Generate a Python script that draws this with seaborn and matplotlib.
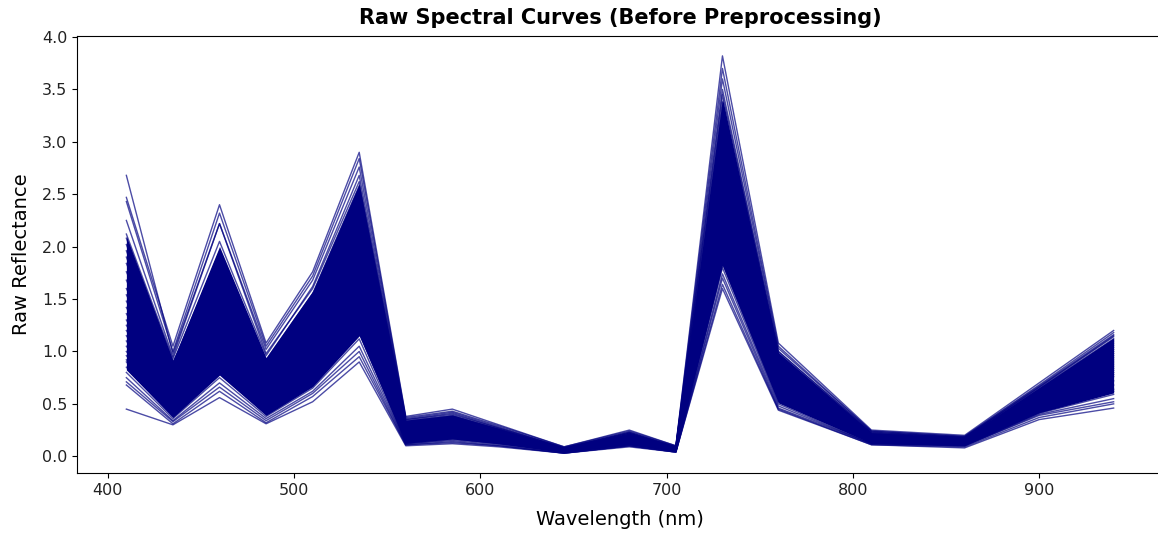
import matplotlib
matplotlib.use("Agg")
import matplotlib.pyplot as plt
import seaborn as sns
import pandas as pd

wavelengths = [410, 435, 460, 485, 510, 535, 560, 585, 610, 645, 680, 705, 730, 760, 810, 860, 900, 940]

upper_curves = [
    [2.68, 0.98, 2.22, 0.98, 1.60, 2.62, 0.35, 0.41, 0.27, 0.08, 0.22, 0.09, 3.45, 1.00, 0.23, 0.18, 0.66, 1.15],
    [2.47, 1.05, 2.40, 1.08, 1.76, 2.90, 0.38, 0.45, 0.30, 0.09, 0.25, 0.10, 3.82, 1.08, 0.25, 0.20, 0.70, 1.20],
    [2.43, 1.00, 2.32, 1.05, 1.72, 2.84, 0.37, 0.43, 0.29, 0.09, 0.24, 0.10, 3.70, 1.05, 0.24, 0.19, 0.68, 1.18],
    [2.25, 0.95, 2.22, 1.02, 1.68, 2.76, 0.36, 0.42, 0.28, 0.08, 0.23, 0.09, 3.60, 1.03, 0.24, 0.19, 0.67, 1.16],
    [2.12, 0.93, 2.05, 0.96, 1.62, 2.68, 0.35, 0.40, 0.27, 0.08, 0.23, 0.09, 3.50, 1.00, 0.23, 0.18, 0.66, 1.14],
    [2.08, 0.90, 1.80, 0.92, 1.55, 2.58, 0.34, 0.39, 0.26, 0.08, 0.22, 0.09, 3.38, 0.98, 0.22, 0.18, 0.65, 1.12],
    [2.02, 0.88, 1.95, 0.90, 1.50, 2.50, 0.33, 0.38, 0.26, 0.07, 0.22, 0.08, 3.30, 0.96, 0.22, 0.18, 0.64, 1.10],
    [1.96, 0.85, 1.72, 0.88, 1.46, 2.42, 0.32, 0.37, 0.25, 0.07, 0.21, 0.08, 3.22, 0.94, 0.21, 0.17, 0.63, 1.08],
    [1.90, 0.82, 1.65, 0.85, 1.42, 2.35, 0.31, 0.36, 0.24, 0.07, 0.21, 0.08, 3.15, 0.92, 0.21, 0.17, 0.62, 1.06],
    [1.84, 0.80, 1.58, 0.82, 1.38, 2.28, 0.30, 0.35, 0.24, 0.07, 0.20, 0.08, 3.08, 0.90, 0.20, 0.17, 0.61, 1.04],
]

middle_curves = [
    [1.76, 0.77, 1.52, 0.80, 1.33, 2.20, 0.29, 0.34, 0.23, 0.07, 0.20, 0.07, 3.00, 0.88, 0.20, 0.16, 0.60, 1.02],
    [1.68, 0.74, 1.46, 0.77, 1.28, 2.12, 0.28, 0.33, 0.22, 0.06, 0.19, 0.07, 2.92, 0.86, 0.19, 0.16, 0.59, 1.00],
    [1.60, 0.71, 1.40, 0.74, 1.24, 2.05, 0.27, 0.32, 0.22, 0.06, 0.19, 0.07, 2.85, 0.84, 0.19, 0.16, 0.58, 0.98],
    [1.54, 0.68, 1.35, 0.71, 1.20, 1.98, 0.26, 0.31, 0.21, 0.06, 0.18, 0.07, 2.78, 0.82, 0.18, 0.15, 0.57, 0.96],
    [1.48, 0.65, 1.30, 0.68, 1.15, 1.90, 0.25, 0.30, 0.20, 0.06, 0.18, 0.07, 2.70, 0.80, 0.18, 0.15, 0.56, 0.94],
    [1.42, 0.62, 1.25, 0.65, 1.10, 1.83, 0.24, 0.29, 0.19, 0.06, 0.17, 0.06, 2.63, 0.77, 0.17, 0.15, 0.55, 0.92],
    [1.36, 0.60, 1.20, 0.62, 1.06, 1.76, 0.23, 0.28, 0.19, 0.05, 0.17, 0.06, 2.56, 0.75, 0.17, 0.14, 0.54, 0.90],
    [1.30, 0.57, 1.15, 0.60, 1.02, 1.70, 0.22, 0.27, 0.18, 0.05, 0.16, 0.06, 2.49, 0.73, 0.16, 0.14, 0.53, 0.88],
    [1.25, 0.55, 1.10, 0.57, 0.98, 1.63, 0.21, 0.26, 0.17, 0.05, 0.16, 0.06, 2.42, 0.71, 0.16, 0.14, 0.52, 0.86],
    [1.20, 0.52, 1.06, 0.55, 0.94, 1.56, 0.20, 0.25, 0.17, 0.05, 0.15, 0.06, 2.36, 0.69, 0.16, 0.13, 0.51, 0.84],
    [1.15, 0.50, 1.02, 0.53, 0.90, 1.50, 0.19, 0.24, 0.16, 0.05, 0.15, 0.06, 2.30, 0.67, 0.15, 0.13, 0.50, 0.82],
    [1.10, 0.48, 0.98, 0.51, 0.86, 1.45, 0.18, 0.23, 0.15, 0.05, 0.14, 0.05, 2.24, 0.65, 0.15, 0.13, 0.49, 0.80],
    [1.05, 0.46, 0.95, 0.49, 0.82, 1.40, 0.17, 0.22, 0.15, 0.04, 0.14, 0.05, 2.18, 0.63, 0.14, 0.12, 0.48, 0.78],
    [1.00, 0.44, 0.92, 0.47, 0.79, 1.35, 0.16, 0.21, 0.14, 0.04, 0.13, 0.05, 2.12, 0.61, 0.14, 0.12, 0.47, 0.76],
    [0.96, 0.42, 0.89, 0.45, 0.76, 1.30, 0.15, 0.20, 0.14, 0.04, 0.13, 0.05, 2.06, 0.59, 0.14, 0.12, 0.46, 0.72],
    [0.92, 0.40, 0.86, 0.43, 0.73, 1.25, 0.14, 0.19, 0.13, 0.04, 0.12, 0.05, 2.00, 0.57, 0.13, 0.11, 0.45, 0.68],
    [0.90, 0.39, 0.84, 0.42, 0.71, 1.20, 0.13, 0.18, 0.13, 0.04, 0.12, 0.05, 1.96, 0.55, 0.13, 0.11, 0.44, 0.64],
]

lower_curves = [
    [0.85, 0.38, 0.80, 0.40, 0.68, 1.18, 0.13, 0.17, 0.12, 0.04, 0.11, 0.05, 1.84, 0.52, 0.13, 0.11, 0.42, 0.62],
    [0.80, 0.36, 0.75, 0.38, 0.65, 1.12, 0.12, 0.16, 0.12, 0.04, 0.11, 0.05, 1.80, 0.50, 0.12, 0.10, 0.41, 0.59],
    [0.75, 0.34, 0.70, 0.36, 0.62, 1.05, 0.12, 0.15, 0.11, 0.03, 0.10, 0.04, 1.74, 0.48, 0.12, 0.10, 0.40, 0.55],
    [0.71, 0.33, 0.66, 0.34, 0.60, 1.00, 0.11, 0.14, 0.10, 0.03, 0.10, 0.04, 1.70, 0.46, 0.12, 0.10, 0.39, 0.52],
    [0.68, 0.31, 0.62, 0.32, 0.57, 0.95, 0.11, 0.13, 0.10, 0.03, 0.10, 0.04, 1.64, 0.45, 0.11, 0.09, 0.37, 0.50],
    [0.45, 0.30, 0.56, 0.31, 0.52, 0.90, 0.10, 0.12, 0.09, 0.03, 0.09, 0.04, 1.60, 0.44, 0.11, 0.08, 0.35, 0.46],
]

rows = []
for i, curve in enumerate(upper_curves + middle_curves + lower_curves):
    for wl, val in zip(wavelengths, curve):
        rows.append({"sample": i, "wavelength": wl, "reflectance": val})
df = pd.DataFrame(rows)

fig = plt.figure(figsize=(11.58, 5.35), dpi=100)
ax = fig.add_axes([77 / 1158, 62 / 535, (1163 - 77) / 1158, (473 - 36) / 535])

# dense core of the spectra (percentile band across samples)
sns.lineplot(data=df, x="wavelength", y="reflectance", estimator="median",
             errorbar=("pi", 72), color="navy", linewidth=0,
             err_kws={"alpha": 1.0, "linewidth": 0}, ax=ax)
# individual spectra
sns.lineplot(data=df, x="wavelength", y="reflectance", units="sample",
             estimator=None, color="navy", alpha=0.7, linewidth=1.0, ax=ax)

ax.set_title("Raw Spectral Curves (Before Preprocessing)", fontsize=15,
             fontweight="bold", pad=8.5)
ax.set_xlabel("Wavelength (nm)", fontsize=14, labelpad=9)
ax.set_ylabel("Raw Reflectance", fontsize=14, labelpad=7.5)
ax.tick_params(labelsize=11.5, labelcolor="#222222")

fig.savefig("out.png", dpi=100)
